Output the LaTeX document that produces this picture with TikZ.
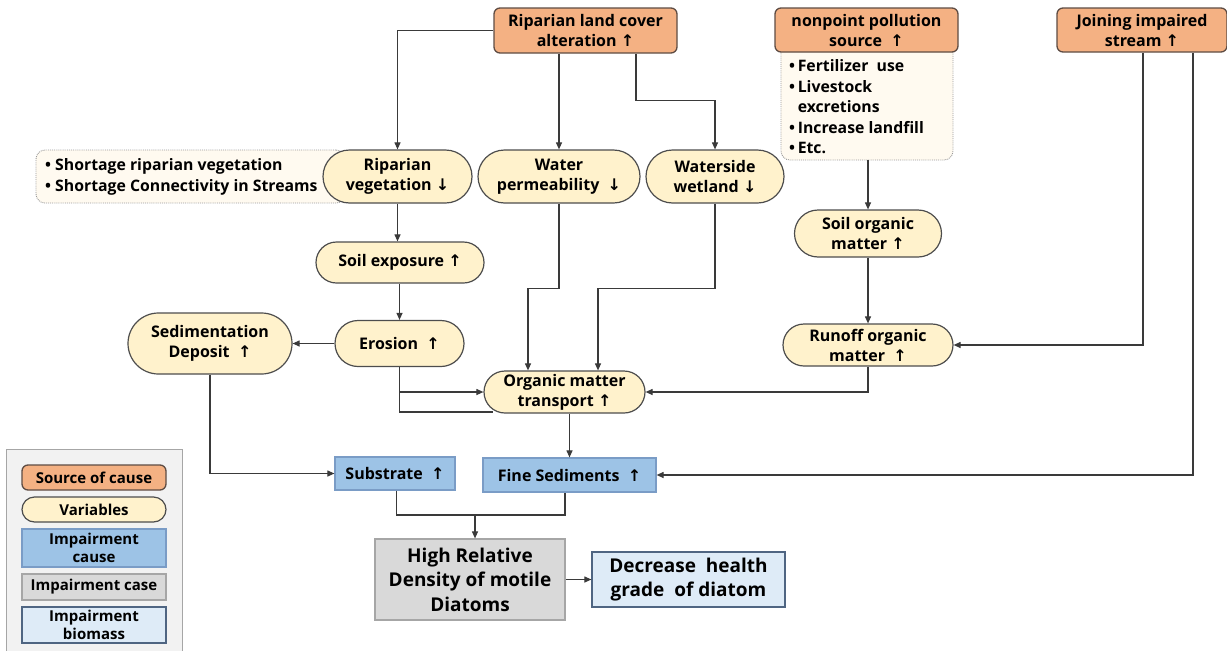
\documentclass[tikz,border=0pt]{standalone}
\usepackage{fontspec}
\setmainfont{Open Sans}
\newfontfamily\symfont{DejaVu Sans}
\usetikzlibrary{shapes.misc,arrows.meta}
\newcommand\uarr{{\symfont ↑}}
\newcommand\darr{{\symfont ↓}}
\definecolor{srcfill}{HTML}{F4B183}
\definecolor{srcline}{HTML}{5E4C43}
\definecolor{varfill}{HTML}{FFF2CC}
\definecolor{varline}{HTML}{4D4D4D}
\definecolor{causefill}{HTML}{9DC3E6}
\definecolor{causeline}{HTML}{7A9CC6}
\definecolor{casefill}{HTML}{D9D9D9}
\definecolor{caseline}{HTML}{A6A6A6}
\definecolor{biofill}{HTML}{DEEBF7}
\definecolor{bioline}{HTML}{4F6582}
\definecolor{notefill}{HTML}{FFFAF0}
\definecolor{wire}{HTML}{3A3A3A}
\tikzset{
  every node/.style={font=\bfseries\fontsize{16}{20}\selectfont, align=center, inner sep=0pt},
  srcbox/.style={draw=srcline, fill=srcfill, line width=1.3pt, rounded corners=6pt},
  varbox/.style={rounded rectangle, draw=varline, fill=varfill, line width=1.2pt},
  causebox/.style={draw=causeline, fill=causefill, line width=1.2pt},
  casebox/.style={draw=caseline, fill=casefill, line width=1.2pt},
  biobox/.style={draw=bioline, fill=biofill, line width=1.2pt},
  notebox/.style={draw=gray!80, densely dotted, fill=notefill, line width=0.9pt, rounded corners=9pt},
  notetext/.style={font=\bfseries\fontsize{15.8}{20.5}\selectfont, align=left, anchor=west},
  legtext/.style={font=\bfseries\fontsize{15}{18}\selectfont},
  bigtext/.style={font=\bfseries\fontsize{19}{24.5}\selectfont},
  arr/.style={draw=wire, line width=1.1pt, -{Triangle[length=7pt,width=6pt]}},
  wireline/.style={draw=wire, line width=1.1pt},
}
\begin{document}
\begin{tikzpicture}[x=1pt,y=-1pt]
\useasboundingbox (0,0) rectangle (1227,651);

% legend
\node[draw=caseline, fill=gray!10, line width=1pt, minimum width=176pt, minimum height=206pt] (legend) at (94,552) {};
\node[srcbox, legtext, minimum width=144pt, minimum height=25pt] (lsrc) at (94,477.5) {Source of cause};
\node[varbox, legtext, minimum width=144pt, minimum height=25pt] (lvar) at (94,509.5) {Variables};
\node[causebox, legtext, minimum width=144pt, minimum height=38pt] (lcause) at (94,548) {Impairment\\cause};
\node[casebox, legtext, minimum width=144pt, minimum height=26pt] (lcase) at (94,587) {Impairment case};
\node[biobox, legtext, minimum width=144pt, minimum height=36pt] (lbio) at (94,625) {Impairment\\biomass};

% side notes
\node[notebox, minimum width=309pt, minimum height=53pt] (sidebox) at (190.5,176.5) {};
\node[notetext] (sidelist) at (45,177) {• Shortage riparian vegetation\\• Shortage Connectivity in Streams};
\node[notebox, minimum width=172pt, minimum height=125pt] (npbox) at (867,97.5) {};
\node[notetext] (nplist) at (789,108.5) {%
  \begin{tabular}{@{}l@{\,}l@{}}
  •&Fertilizer\ \ use\\
  •&Livestock\\
   &excretions\\
  •&Increase landfill\\
  •&Etc.
  \end{tabular}};

% sources of cause
\node[srcbox, minimum width=183pt, minimum height=45pt] (rlc) at (585.5,30.5) {Riparian land cover\\alteration \uarr};
\node[srcbox, minimum width=183pt, minimum height=44pt] (nps) at (866.5,30) {nonpoint pollution\\source \ \uarr};
\node[srcbox, minimum width=170pt, minimum height=44pt] (jis) at (1142,30) {Joining impaired\\stream \uarr};

% variables
\node[varbox, minimum width=149pt, minimum height=53pt] (rveg) at (397.5,176.5) {Riparian\\vegetation \darr};
\node[varbox, minimum width=162pt, minimum height=53pt] (wperm) at (559,176.5) {Water\\permeability \ \darr};
\node[varbox, minimum width=138pt, minimum height=53pt] (wwet) at (715,176.5) {Waterside\\wetland \darr};
\node[varbox, minimum width=147pt, minimum height=47pt] (som) at (868,233.5) {Soil organic\\matter \uarr};
\node[varbox, minimum width=168pt, minimum height=41pt] (sexp) at (400,262.5) {Soil exposure \uarr};
\node[varbox, minimum width=164pt, minimum height=61pt] (sed) at (210,343.5) {Sedimentation\\Deposit \ \uarr};
\node[varbox, minimum width=129pt, minimum height=46pt] (ero) at (399.5,343.5) {Erosion \ \uarr};
\node[varbox, minimum width=170pt, minimum height=42pt] (ro) at (868,345) {Runoff organic\\matter \ \uarr};
\node[varbox, minimum width=161pt, minimum height=42pt] (omt) at (564.5,392) {Organic matter\\transport \uarr};

% impairment cause, case and biomass
\node[causebox, minimum width=120pt, minimum height=33pt] (sub) at (395,473.5) {Substrate \ \uarr};
\node[causebox, minimum width=173pt, minimum height=34pt] (fs) at (569.5,475) {Fine Sediments \ \uarr};
\node[casebox, bigtext, minimum width=190pt, minimum height=81pt] (hrd) at (470,579.5) {High Relative\\Density of motile\\Diatoms};
\node[biobox, bigtext, minimum width=193pt, minimum height=55pt] (bio) at (688.5,579.5) {Decrease \ health\\grade \ of diatom};

% helper points
\coordinate (omtlow) at (493,412);
\coordinate (join) at (475,515);

% connectors
\draw[arr] (rlc.west) -| (rveg.north);
\draw[arr] (rlc.south -| wperm.north) -- (wperm.north);
\draw[arr] ([xshift=50.5pt]rlc.south) -- ++(0,47) -| (wwet.north);
\draw[arr] (rveg.south) -- (rveg.south |- sexp.north);
\draw[arr] (sexp.south -| ero.north) -- (ero.north);
\draw[arr] (ero.west) -- (ero.west -| sed.east);
\draw[arr] (ero.south) |- (omt.west);
\draw[wireline] (ero.south) |- (omtlow);
\draw[arr] (wperm.south) -- ++(0,85) -| ([xshift=-36.5pt]omt.north);
\draw[arr] (wwet.south) -- ++(0,85) -| ([xshift=33.5pt]omt.north);
\draw[arr] (npbox.south -| som.north) -- (som.north);
\draw[arr] (som.south) -- (ro.north);
\draw[arr] (ro.south) |- (omt.east);
\draw[arr] ([xshift=1pt]jis.south) |- (ro.east);
\draw[arr] ([xshift=51pt]jis.south) |- (fs.east);
\draw[arr] (fs.north |- omt.south) -- (fs.north);
\draw[arr] (sed.south) |- (sub.west);
\draw[wireline] ([xshift=1.5pt]sub.south) |- (join) -| ([xshift=-4.5pt]fs.south);
\draw[arr] (join) -- (join |- hrd.north);
\draw[arr] (hrd.east) -- (bio.west);
\end{tikzpicture}
\end{document}
